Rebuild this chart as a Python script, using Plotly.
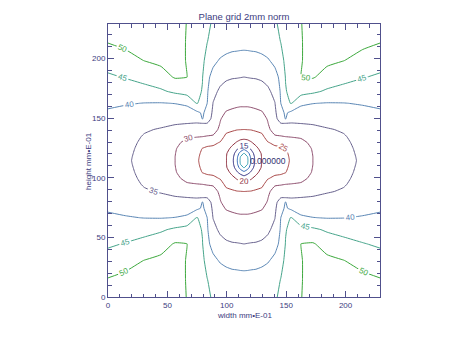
import numpy as np
import plotly.graph_objects as go

# ---------------- text ----------------
title_text = "Plane grid 2mm norm"
x_title = "width mm\u2022E-01"
y_title = "height mm\u2022E-01"
center_label = "0.000000"
tick_values = [0, 50, 100, 150, 200]
tick_labels = ["0", "50", "100", "150", "200"]

# ---------------- data ----------------
# grid is mirror-symmetric about the centre point (114.5, 114.5);
# offsets from the centre (same list used for x and y)
center = 114.5
offsets = [0, 3, 6, 10, 15, 20, 26, 31, 35, 40, 48, 58, 70, 84, 100, 114.5]

# estimated field values, rows = vertical offset, columns = horizontal offset
quadrant_values = [
    [0.0, 4.3, 10.8, 16.4, 20.2, 21.2, 22.4, 23.5, 24.3, 25.4, 27.4, 30.0, 31.7, 33.7, 35.65, 36.6],
    [2.3, 4.8, 11.3, 16.6, 20.2, 21.3, 22.5, 23.6, 24.4, 25.5, 27.5, 30.0, 31.7, 33.8, 35.7, 36.7],
    [4.6, 8.0, 12.8, 17.3, 20.4, 21.5, 22.9, 23.7, 24.5, 25.8, 27.6, 30.1, 31.9, 33.9, 35.8, 36.8],
    [11.4, 13.5, 15.7, 18.9, 21.5, 23.0, 24.0, 24.3, 24.9, 26.3, 28.0, 30.3, 32.1, 34.0, 36.0, 37.0],
    [17.8, 18.4, 19.6, 21.2, 23.1, 24.7, 26.0, 26.3, 26.8, 27.9, 28.9, 31.0, 32.7, 34.3, 36.25, 37.3],
    [21.7, 21.8, 22.2, 22.6, 23.9, 26.9, 29.4, 29.7, 30.0, 30.2, 30.5, 32.1, 33.4, 34.7, 36.55, 37.6],
    [25.0, 25.1, 25.2, 25.8, 26.3, 28.95, 32.0, 32.5, 32.6, 32.7, 33.0, 33.7, 34.7, 35.4, 37.1, 38.0],
    [26.35, 26.4, 26.5, 26.9, 27.8, 29.8, 32.9, 34.8, 34.75, 34.75, 35.0, 35.3, 35.8, 36.4, 37.7, 38.5],
    [27.4, 27.5, 27.6, 27.85, 28.65, 30.26, 33.3, 37.7, 40.2, 36.8, 36.3, 36.4, 36.7, 37.2, 38.2, 38.9],
    [28.8, 28.8, 28.9, 29.2, 29.6, 31.4, 34.0, 38.8, 40.56, 38.9, 37.8, 37.8, 37.9, 38.3, 38.9, 39.5],
    [30.7, 30.7, 30.85, 31.1, 31.8, 32.8, 34.86, 40.0, 44.6, 45.1, 40.9, 40.1, 39.8, 39.9, 40.3, 40.7],
    [32.6, 32.7, 32.8, 32.85, 33.4, 34.1, 36.4, 40.5, 44.7, 46.4, 47.0, 45.9, 44.3, 43.2, 42.5, 42.3],
    [35.0, 35.1, 35.2, 35.3, 35.6, 36.6, 38.5, 41.1, 45.2, 47.0, 50.05, 50.4, 48.2, 46.7, 45.25, 44.3],
    [38.3, 38.4, 38.5, 38.6, 39.0, 39.6, 41.1, 43.9, 45.7, 47.3, 49.8, 51.4, 51.0, 50.1, 48.4, 47.1],
    [41.5, 41.5, 41.6, 41.7, 42.0, 42.7, 43.85, 45.1, 46.2, 47.6, 49.8, 51.4, 52.5, 52.3, 51.2, 50.3],
    [43.0, 43.0, 43.1, 43.3, 43.6, 44.0, 44.6, 45.6, 46.6, 47.9, 49.9, 51.4, 52.5, 52.5, 52.5, 52.2],
]

levels = [5, 10, 15, 20, 25, 30, 35, 40, 45, 50]
level_colors = ["#3aa0b4", "#3468b8", "#343080", "#8c2c3c", "#a84848",
                "#8c4c6c", "#66608c", "#5a86b4", "#46a48a", "#3ca83c"]

# ---------------- build full grid by symmetry ----------------
Q = np.array(quadrant_values)
off = np.array(offsets)
coords = np.concatenate([center - off[:0:-1], center + off])
z = np.block([[Q[:0:-1, :0:-1], Q[:0:-1, :]],
              [Q[:, :0:-1], Q]])

lo, hi = levels[0], levels[-1]
colorscale = [[(lv - lo) / (hi - lo), c] for lv, c in zip(levels, level_colors)]

axis_color = "#50508c"
text_color = "#3c3c80"
font_family = "Liberation Sans, Arial, sans-serif"

fig = go.Figure()
fig.add_trace(go.Contour(
    x=coords, y=coords, z=z,
    zmin=lo, zmax=hi, zauto=False,
    colorscale=colorscale, showscale=False,
    contours=dict(start=lo, end=hi, size=5, coloring="lines",
                  showlabels=True,
                  labelfont=dict(size=8, family=font_family)),
    line=dict(width=1, smoothing=0.4),
    hoverinfo="skip",
))

fig.add_annotation(x=center + 3, y=center, xref="x", yref="y",
                   text=center_label, showarrow=False, xanchor="left",
                   yanchor="middle",
                   font=dict(size=8.5, color="#303070", family=font_family))

axis_common = dict(
    range=[0, 229], tickmode="array", tickvals=tick_values, ticktext=tick_labels,
    ticks="inside", ticklen=6, tickwidth=1, tickcolor=axis_color,
    showline=True, linecolor=axis_color, linewidth=1, mirror="ticks",
    showgrid=False, zeroline=False,
    tickfont=dict(size=8, color=text_color, family=font_family),
    minor=dict(dtick=10, tick0=0, ticks="inside", ticklen=3.5,
               tickcolor=axis_color, showgrid=False),
)
fig.update_xaxes(**axis_common)
fig.update_yaxes(**axis_common)

fig.add_annotation(x=0.5, y=-0.068, xref="paper", yref="paper",
                   text=x_title, showarrow=False, xanchor="center", yanchor="middle",
                   font=dict(size=8, color=text_color, family=font_family))
fig.add_annotation(x=-0.072, y=0.5, xref="paper", yref="paper",
                   text=y_title, showarrow=False, textangle=-90,
                   xanchor="center", yanchor="middle",
                   font=dict(size=8, color=text_color, family=font_family))

# the page body adds an 8 px offset, so the figure is 8 px smaller
fig.update_layout(
    width=466, height=331,
    margin=dict(l=100, r=94, t=16, b=42),
    paper_bgcolor="white", plot_bgcolor="white",
    showlegend=False,
    title=dict(text=title_text, x=0.5, xref="paper", xanchor="center",
               y=1 - 9 / 331, yref="container", yanchor="middle",
               font=dict(size=9.5, color=text_color, family=font_family)),
)

fig.write_html("out.html")
